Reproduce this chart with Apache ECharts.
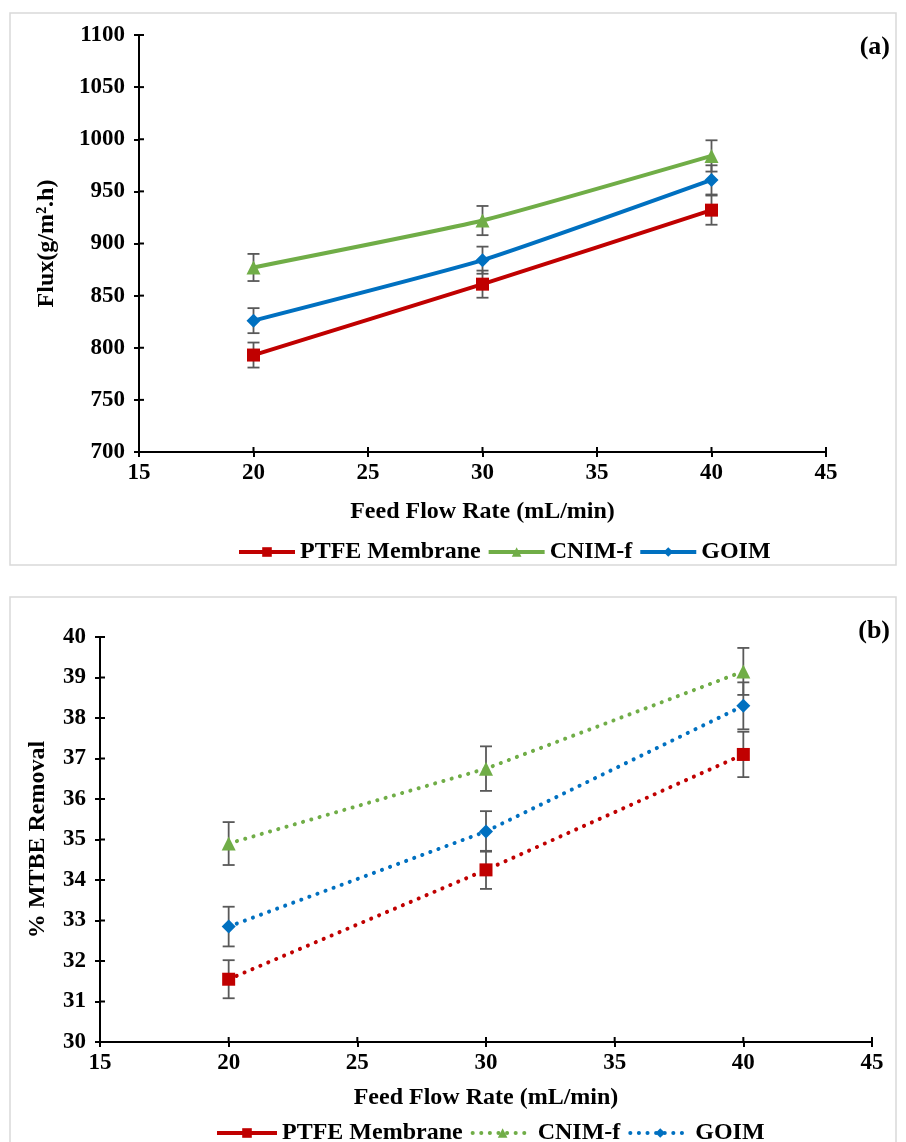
<!DOCTYPE html>
<html lang="en">
<head>
    <meta charset="UTF-8">
    <title>Flux and MTBE removal</title>
    <style>
        html,body{margin:0;padding:0;background:#fff;}
        #main{
            width: 906px;
            height: 1142px;
        }
    </style>
</head>
<body>
<div id="main"></div>
<script src="https://cdn.jsdelivr.net/npm/echarts@6/dist/echarts.min.js"></script>
<script>
    const myChart = echarts.init(document.getElementById('main'));

    // feed flow rate (mL/min)
    const flowRates = [20, 30, 40];
    const seriesNames = ['PTFE Membrane', 'CNIM-f', 'GOIM'];
    const xTicks = [15, 20, 25, 30, 35, 40, 45];

    // (a) flux, g/m2.h
    const fluxTicks = [700, 750, 800, 850, 900, 950, 1000, 1050, 1100];
    const fluxPTFE = [793, 861, 932];
    const fluxCNIM = [877, 922, 984];
    const fluxGOIM = [826, 884, 961];
    const fluxErrPTFE = [12, 13, 14];
    const fluxErrCNIM = [13, 14, 15];
    const fluxErrGOIM = [12, 13, 14];

    // (b) % MTBE removal
    const remTicks = [30, 31, 32, 33, 34, 35, 36, 37, 38, 39, 40];
    const remPTFE = [31.55, 34.25, 37.1];
    const remCNIM = [34.9, 36.75, 39.15];
    const remGOIM = [32.85, 35.2, 38.3];
    const remErrPTFE = [0.47, 0.47, 0.56];
    const remErrCNIM = [0.53, 0.55, 0.58];
    const remErrGOIM = [0.49, 0.5, 0.58];

    const colors = ['#c00000', '#70ad47', '#0070c0'];
    const symbols = ['rect', 'triangle', 'diamond'];
    const symbolSizes = [13, 14, 14];
    const dots = [0.1, 8.5];
    const font = '"Liberation Serif", "Times New Roman", serif';

    const pairs = (ys) => flowRates.map((x, i) => [x, ys[i]]);
    const errPairs = (ys, es) => flowRates.map((x, i) => [x, ys[i] - es[i], ys[i] + es[i]]);

    // error bar drawing
    function errorBar(params, api){
        const lo = api.coord([api.value(0), api.value(1)]);
        const hi = api.coord([api.value(0), api.value(2)]);
        const w = 6;
        const style = {stroke: '#595959', lineWidth: 1.8};
        return {
            type: 'group',
            children: [
                {type: 'line', shape: {x1: lo[0], y1: lo[1], x2: hi[0], y2: hi[1]}, style},
                {type: 'line', shape: {x1: lo[0] - w, y1: lo[1], x2: lo[0] + w, y2: lo[1]}, style},
                {type: 'line', shape: {x1: hi[0] - w, y1: hi[1], x2: hi[0] + w, y2: hi[1]}, style}
            ]
        };
    }

    // inner half of the crossing ticks (axis ticks only go outward)
    // data: [x, y, dir]  dir 0 = tick on x axis, 1 = tick on y axis
    function innerTick(params, api){
        const p = api.coord([api.value(0), api.value(1)]);
        const horiz = api.value(2) === 1;
        return {
            type: 'line',
            shape: horiz
                ? {x1: p[0], y1: p[1], x2: p[0] + 5, y2: p[1]}
                : {x1: p[0], y1: p[1], x2: p[0], y2: p[1] - 5},
            style: {stroke: '#000', lineWidth: 2}
        };
    }
    const tickData = (xMin, yMin) =>
        xTicks.map(x => [x, yMin, 0]).concat(
            (yMin === 700 ? fluxTicks : remTicks).map(y => [xMin, y, 1]));

    const tickLbl = {fontFamily: font, fontWeight: 'bold', fontSize: 23, color: '#000', formatter: v => String(v)};
    const nameLbl = {fontFamily: font, fontWeight: 'bold', fontSize: 24, color: '#000'};
    const tickStyle = {color: '#000', width: 2};

    function xAxisOf(grid, gap){
        return {
            gridIndex: grid, type: 'value', min: 15, max: 45, interval: 5,
            axisLine: {lineStyle: {color: '#000', width: 2}},
            axisTick: {length: 5, lineStyle: tickStyle},
            axisLabel: Object.assign({margin: 10}, tickLbl),
            splitLine: {show: false},
            name: 'Feed Flow Rate (mL/min)', nameLocation: 'middle', nameGap: gap,
            nameTextStyle: nameLbl
        };
    }
    function yAxisOf(grid, min, max, step, name, gap){
        return {
            gridIndex: grid, type: 'value', min: min, max: max, interval: step,
            axisLine: {show: true, lineStyle: {color: '#000', width: 2}},
            axisTick: {show: true, length: 5, lineStyle: tickStyle},
            axisLabel: Object.assign({margin: 14}, tickLbl),
            splitLine: {show: false},
            name: name, nameLocation: 'middle', nameGap: gap, nameTextStyle: nameLbl
        };
    }

    const fluxSets = [[fluxPTFE, fluxErrPTFE], [fluxCNIM, fluxErrCNIM], [fluxGOIM, fluxErrGOIM]];
    const remSets = [[remPTFE, remErrPTFE], [remCNIM, remErrCNIM], [remGOIM, remErrGOIM]];

    const series = [];
    [0, 1].forEach(g => {
        series.push({
            type: 'custom', xAxisIndex: g, yAxisIndex: g, z: 5, silent: true, clip: false,
            renderItem: innerTick, data: tickData(15, g === 0 ? 700 : 30)
        });
    });
    fluxSets.forEach(([ys, es]) => {
        series.push({
            type: 'custom', xAxisIndex: 0, yAxisIndex: 0, z: 1,
            renderItem: errorBar, data: errPairs(ys, es), silent: true
        });
    });
    fluxSets.forEach(([ys], i) => {
        series.push({
            name: seriesNames[i], type: 'line', xAxisIndex: 0, yAxisIndex: 0, z: 3,
            data: pairs(ys), smooth: 0.15,
            symbol: symbols[i], symbolSize: symbolSizes[i],
            itemStyle: {color: colors[i]},
            lineStyle: {color: colors[i], width: 4}
        });
    });
    remSets.forEach(([ys, es]) => {
        series.push({
            type: 'custom', xAxisIndex: 1, yAxisIndex: 1, z: 1,
            renderItem: errorBar, data: errPairs(ys, es), silent: true
        });
    });
    remSets.forEach(([ys], i) => {
        series.push({
            name: seriesNames[i], type: 'line', xAxisIndex: 1, yAxisIndex: 1, z: 3,
            data: pairs(ys),
            symbol: symbols[i], symbolSize: symbolSizes[i],
            itemStyle: {color: colors[i]},
            lineStyle: {color: colors[i], width: 4, type: dots, cap: 'round'}
        });
    });

    const legendText = {fontFamily: font, fontWeight: 'bold', fontSize: 24, color: '#000'};

    const option = {
        animation: false,
        backgroundColor: '#fff',
        graphic: [
            {type: 'rect', shape: {x: 10, y: 13, width: 886, height: 552},
             style: {fill: 'none', stroke: '#d9d9d9', lineWidth: 1.5}, silent: true},
            {type: 'rect', shape: {x: 10, y: 597, width: 886, height: 560},
             style: {fill: 'none', stroke: '#d9d9d9', lineWidth: 1.5}, silent: true},
            {type: 'text', right: 16, top: 34,
             style: {text: '(a)', font: 'bold 26px ' + font, fill: '#000'}},
            {type: 'text', right: 16, top: 618,
             style: {text: '(b)', font: 'bold 26px ' + font, fill: '#000'}}
        ],
        grid: [
            {left: 139, top: 35, width: 687, height: 417},
            {left: 100, top: 637, width: 772, height: 405}
        ],
        xAxis: [xAxisOf(0, 48), xAxisOf(1, 44)],
        yAxis: [
            yAxisOf(0, 700, 1100, 50, 'Flux(g/m\u00b2.h)', 80),
            yAxisOf(1, 30, 40, 1, '% MTBE Removal', 50)
        ],
        legend: [
            {
                top: 535, left: 232, itemWidth: 56, itemHeight: 12, itemGap: 6,
                textStyle: legendText, selectedMode: false,
                lineStyle: {width: 4},
                data: seriesNames
            },
            {
                top: 1116, left: 210, itemWidth: 60, itemHeight: 12, itemGap: 8,
                textStyle: legendText, selectedMode: false,
                lineStyle: {width: 4},
                data: [
                    {name: seriesNames[0], lineStyle: {type: 'solid', width: 4}},
                    {name: seriesNames[1], lineStyle: {type: dots, cap: 'round', width: 4}},
                    {name: seriesNames[2], lineStyle: {type: dots, cap: 'round', width: 4}}
                ]
            }
        ],
        series: series
    };

    myChart.setOption(option);
</script>
</body>
</html>
